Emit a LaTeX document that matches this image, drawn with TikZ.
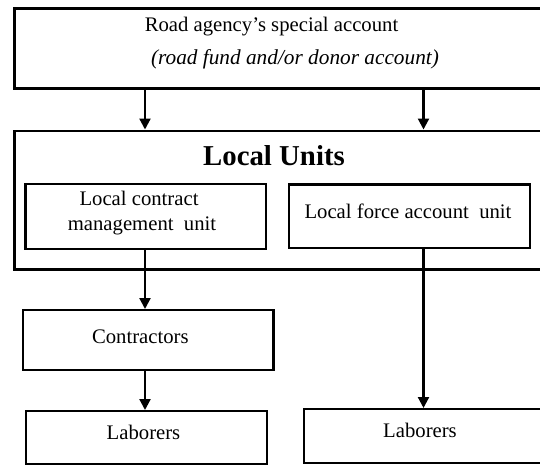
\documentclass[tikz,border=0pt]{standalone}
\usepackage{fontspec}
\setmainfont{Liberation Serif}
\usetikzlibrary{arrows.meta}
\begin{document}
\begin{tikzpicture}[x=1pt,y=-1pt,
  box/.style={draw, line width=2.4pt, inner sep=0pt, anchor=north west},
  lbl/.style={font=\fontsize{20.7}{23}\selectfont, anchor=base, inner sep=0pt},
  arr/.style={line width=2.2pt, -{Triangle[width=11pt,length=11pt]}}]
\useasboundingbox (0,0) rectangle (540,464);
\clip (0,0) rectangle (540,464);
% boxes
\node[box, minimum width=536pt, minimum height=80pt] (top) at (13.3,7.3) {};
\node[box, minimum width=536pt, minimum height=138.8pt] (lu) at (13.3,129.5) {};
\node[box, minimum width=240.7pt, minimum height=65pt] (cmu) at (24.3,182.7) {};
\node[box, minimum width=241.3pt, minimum height=63.4pt] (fau) at (287.7,183.3) {};
\node[box, minimum width=250.5pt, minimum height=60pt] (con) at (21.7,309) {};
\node[box, minimum width=241pt, minimum height=53pt] (labl) at (25,410) {};
\node[box, minimum width=245pt, minimum height=54pt] (labr) at (303,408) {};
% texts
\node[lbl] (t1) at (271.5,31.7) {Road agency’s special account};
\node[lbl, font=\fontsize{21.3}{23}\selectfont\itshape] (t2) at (295,64) {(road fund and/or donor account)};
\node[lbl, font=\fontsize{28.8}{31}\selectfont\bfseries] (t3) at (274,165) {Local Units};
\node[lbl] (t4) at (139,205) {Local contract};
\node[lbl] (t5) at (142,230.7) {management\ \ unit};
\node[lbl] (t6) at (408,218.3) {Local force account\ \ unit};
\node[lbl] (t7) at (140.3,343) {Contractors};
\node[lbl] (t8) at (143.5,439) {Laborers};
\node[lbl] (t9) at (420,437) {Laborers};
% connectors
\coordinate (cl) at (145,0);
\coordinate (cr) at (423.5,0);
\draw[arr] (top.south -| cl) -- (lu.north -| cl);
\draw[arr] (top.south -| cr) -- (lu.north -| cr);
\draw[arr] (cmu.south -| cl) -- (con.north -| cl);
\draw[arr] (con.south -| cl) -- (labl.north -| cl);
\draw[arr] (fau.south -| cr) -- (labr.north -| cr);
\end{tikzpicture}
\end{document}
